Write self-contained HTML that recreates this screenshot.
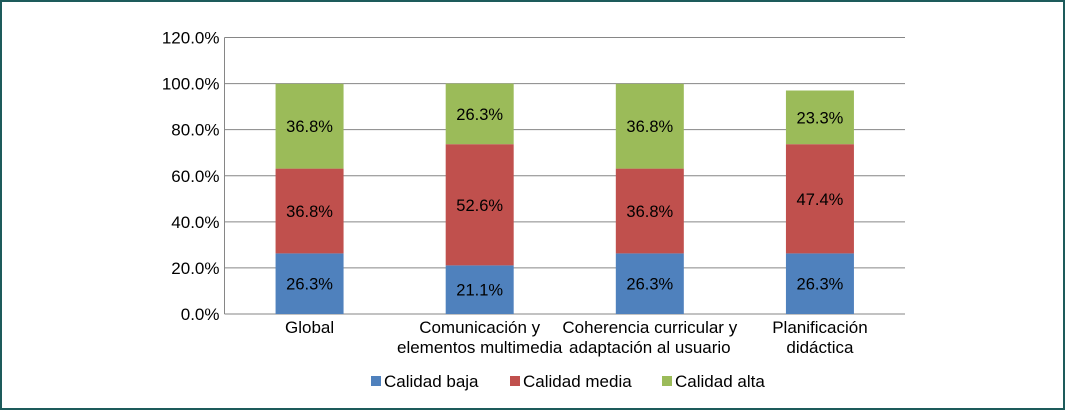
<!DOCTYPE html>
<html><head><meta charset="utf-8"><style>
html,body{margin:0;padding:0;background:#fff;}
svg{display:block;font-family:"Liberation Sans",Arial,sans-serif;}
</style></head><body>
<svg width="1065" height="410" viewBox="0 0 1065 410">
<rect x="1" y="1" width="1063" height="408" fill="#fff" stroke="#1d5b5b" stroke-width="2"/>
<g id="grid"></g><g id="bars"></g><g id="labels"></g><g id="legend"></g>
</svg>
<script>
const categories=[["Global"],["Comunicación y","elementos multimedia"],["Coherencia curricular y","adaptación al usuario"],["Planificación","didáctica"]];
const seriesNames=["Calidad baja","Calidad media","Calidad alta"];
const baja=[26.3,21.1,26.3,26.3];
const media=[36.8,52.6,36.8,47.4];
const alta=[36.8,26.3,36.8,23.3];
const yTicks=[0,20,40,60,80,100,120];
const colors=["#4f81bd","#c0504d","#9bbb59"];
const NS="http://www.w3.org/2000/svg";
const x0=224.5,x1=905,yBase=314,yTop=37.5,yMax=120;
const y=v=>yBase-(v/yMax)*(yBase-yTop);
const band=(x1-x0)/categories.length;
const cx=i=>x0+band*(i+0.5);
const bw=68;
function mk(tag,attrs,parent){const e=document.createElementNS(NS,tag);for(const k in attrs)e.setAttribute(k,attrs[k]);parent.appendChild(e);return e;}
const grid=document.getElementById('grid'),bars=document.getElementById('bars'),labels=document.getElementById('labels'),legend=document.getElementById('legend');
yTicks.forEach(t=>{
 const l=mk('line',{x1:x0,x2:x1,y1:y(t),y2:y(t),stroke:'#868686','stroke-width':1},grid);
 
 
 const tx=mk('text',{x:x0-5,y:y(t)+6,'text-anchor':'end','font-size':17,fill:'#000'},grid);
 tx.textContent=t.toFixed(1)+'%';
 
 
});
const ax=mk('line',{x1:x0,x2:x0,y1:yTop,y2:yBase,stroke:'#868686','stroke-width':1},grid);


const series=[baja,media,alta];
categories.forEach((c,i)=>{
 let acc=0;
 series.forEach((s,j)=>{
  const v=s[i];
  const r=mk('rect',{x:cx(i)-bw/2,y:y(acc+v),width:bw,height:y(acc)-y(acc+v),fill:colors[j]},bars);
  
  
  const t=mk('text',{x:cx(i),y:y(acc+v/2)+6,'text-anchor':'middle','font-size':16.5,fill:'#000'},labels);
  t.textContent=v.toFixed(1)+'%';
  
  
  acc+=v;
 });
 c.forEach((line,k)=>{
  const t=mk('text',{x:cx(i),y:333+k*20,'text-anchor':'middle','font-size':17,fill:'#000'},labels);
  t.textContent=line;
  
  
 });
});
const lx=[371,510,662];
seriesNames.forEach((n,j)=>{
 const g=mk('g',{},legend);
 
 
 mk('rect',{x:lx[j],y:376,width:10,height:10,fill:colors[j]},g);
 const t=mk('text',{x:lx[j]+13,y:387,'font-size':17,fill:'#000'},g);
 t.textContent=n;
});
</script>
</body></html>
